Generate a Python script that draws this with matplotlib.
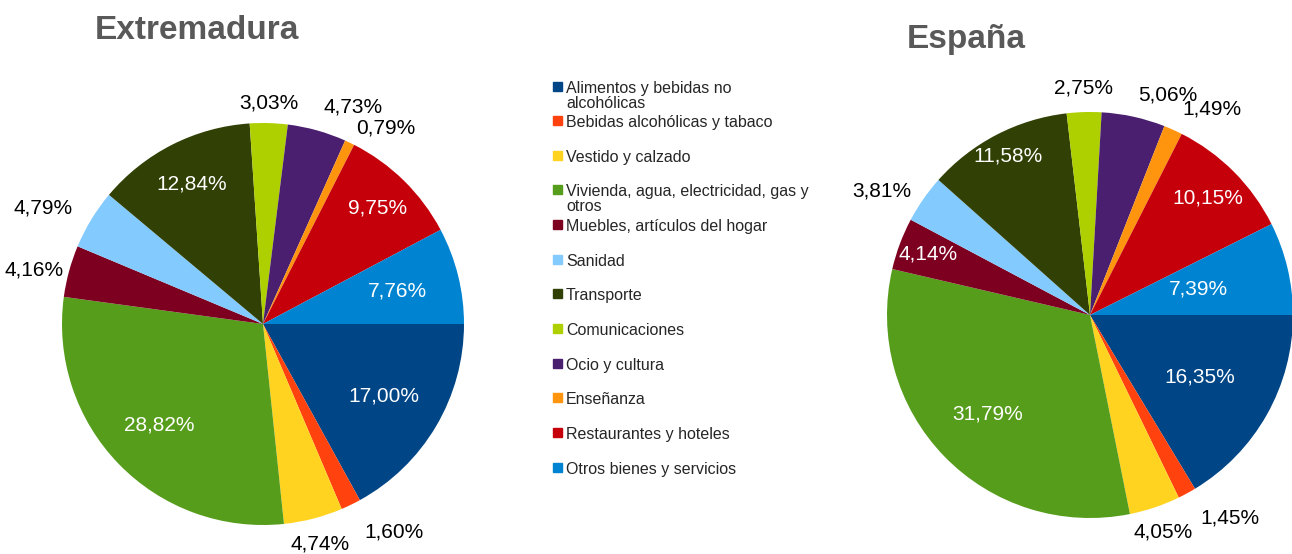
import matplotlib
matplotlib.use("Agg")
from matplotlib import pyplot as plt
import numpy as np

plt.rcParams['font.family'] = ['Liberation Sans', 'DejaVu Sans']

categories = ["Alimentos y bebidas no\nalcohólicas", "Bebidas alcohólicas y tabaco",
              "Vestido y calzado", "Vivienda, agua, electricidad, gas y\notros",
              "Muebles, artículos del hogar", "Sanidad", "Transporte", "Comunicaciones",
              "Ocio y cultura", "Enseñanza", "Restaurantes y hoteles",
              "Otros bienes y servicios"]
extremadura = [17.00, 1.60, 4.74, 28.82, 4.16, 4.79, 12.84, 3.03, 4.73, 0.79, 9.75, 7.76]
espana = [16.35, 1.45, 4.05, 31.79, 4.14, 3.81, 11.58, 2.75, 5.06, 1.49, 10.15, 7.39]

colors = ['#004586', '#ff420e', '#ffd320', '#579d1c', '#7e0021', '#83caff',
          '#314004', '#aecf00', '#4b1f6f', '#ff950e', '#c5000b', '#0084d1']

# label placement (distance from centre in radii, horizontal alignment)
ext_dist = [0.70, 1.15, 1.13, 0.72, 1.03, 1.11, 0.78, 1.10, 1.12, 1.08, 0.81, 0.69]
ext_ha = ['center', 'left', 'center', 'center', 'right', 'right', 'center', 'center',
          'left', 'left', 'center', 'center']
esp_dist = [0.62, 1.14, 1.13, 0.70, 0.85, 1.07, 0.88, 1.12, 1.11, 1.11, 0.82, 0.55]
esp_ha = ['center', 'left', 'center', 'center', 'center', 'right', 'center', 'center',
          'left', 'left', 'center', 'center']

W, H = 1292, 554
fig = plt.figure(figsize=(W / 100, H / 100), dpi=100)


def draw_pie(values, cx, cy, r, dist, ha, title, tx, ty):
    ax = fig.add_axes([(cx - r) / W, (H - cy - r) / H, 2 * r / W, 2 * r / H])
    wedges, _ = ax.pie(values, colors=colors, startangle=0, counterclock=False,
                       radius=1, wedgeprops={'linewidth': 0})
    ax.set_xlim(-1, 1)
    ax.set_ylim(-1, 1)
    for w, v, d, a in zip(wedges, values, dist, ha):
        ang = np.deg2rad((w.theta1 + w.theta2) / 2)
        txt = f"{v:.2f}%".replace('.', ',')
        col = 'white' if d < 1 else 'black'
        ax.text(d * np.cos(ang), d * np.sin(ang), txt, ha=a, va='center',
                fontsize=15, color=col, clip_on=False)
    fig.text(tx / W, 1 - ty / H, title, ha='center', va='baseline',
             fontsize=24, fontweight='bold', color='#595959')


draw_pie(extremadura, 263, 324, 201, ext_dist, ext_ha, "Extremadura", 197, 39)
draw_pie(espana, 1090, 315, 203, esp_dist, esp_ha, "España", 966, 48)

# legend
y0, step = 86, 34.64
for i, (lab, c) in enumerate(zip(categories, colors)):
    y = y0 + i * step
    fig.patches.append(plt.Rectangle((553 / W, 1 - (y + 4.5) / H), 9 / W, 9 / H,
                                     color=c, transform=fig.transFigure, figure=fig))
    fig.text(566 / W, 1 - (y - 5.5) / H, lab, ha='left', va='top', fontsize=11.5,
             color='#262626', linespacing=1.0)

fig.savefig("out.png", dpi=100)
